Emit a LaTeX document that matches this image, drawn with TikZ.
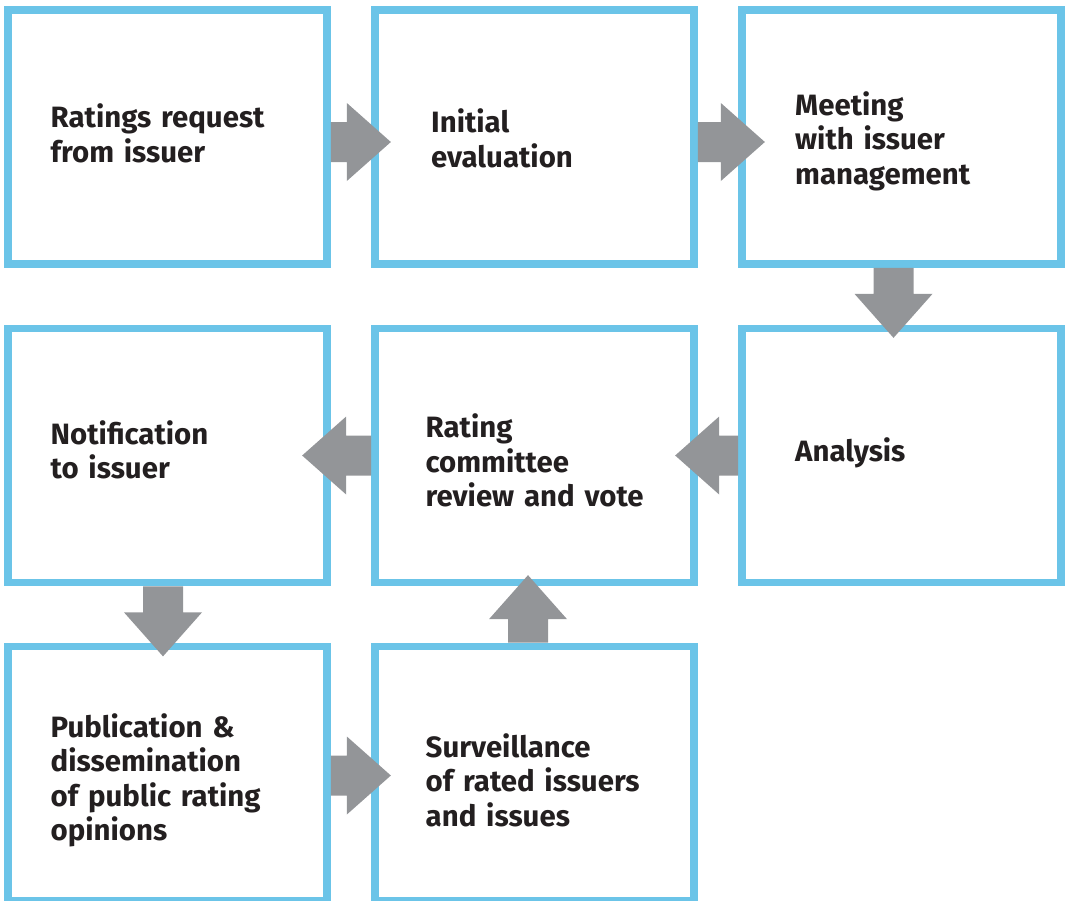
\documentclass[tikz,border=0pt]{standalone}
\usepackage{fontspec}
\setmainfont{Fira Sans}
\usetikzlibrary{positioning}
\definecolor{boxblue}{RGB}{107,196,232}
\definecolor{arrowgray}{RGB}{147,149,152}
\definecolor{textblack}{RGB}{35,31,32}

% block arrow: start point, direction, length
\newcommand{\flowarrow}[3]{%
  \fill[arrowgray, shift={#1}, rotate=#2]
    (0,-20) -- ({#3-44},-20) -- ({#3-44},-39) -- (#3,0)
    -- ({#3-44},39) -- ({#3-44},20) -- (0,20) -- cycle;}

\begin{document}
\begin{tikzpicture}[x=1pt, y=-1pt,
     font=\fontsize{29.4}{34.6}\selectfont\bfseries,
     stepbox/.style = {draw=boxblue, line width=7.7pt, inner sep=0pt,
     minimum width=319pt, minimum height=254pt},
     steptext/.style = {anchor=base west, inner sep=0pt,
     text width=260pt, align=left, text=textblack}]
        \useasboundingbox (0,0) rectangle (1065,900);
        % boxes
        \node [stepbox] at (167.5,137) (request) {};
        \node [stepbox, right=40.3pt of request] (evaluation) {};
        \node [stepbox, right=40.3pt of evaluation] (meeting) {};
        \node [stepbox, below=56.8pt of meeting] (analysis) {};
        \node [stepbox, left=40.3pt of analysis] (committee) {};
        \node [stepbox, left=40.3pt of committee] (notification) {};
        \node [stepbox, below=56.3pt of notification] (publication) {};
        \node [stepbox, right=40.3pt of publication] (surveillance) {};
        % texts
        \node [steptext] at (50.5,127.5) (request-t)
            {Ratings request\\from issuer};
        \node [steptext] at (431,132.5) (evaluation-t)
            {Initial\\evaluation};
        \node [steptext] at (795,115) (meeting-t)
            {Meeting\\with issuer\\management};
        \node [steptext] at (795,461) (analysis-t)
            {Analysis};
        \node [steptext] at (425.5,437.5) (committee-t)
            {Rating\\committee\\review and vote};
        \node [steptext] at (50.5,444) (notification-t)
            {Notification\\to issuer};
        \node [steptext] at (50.5,737) (publication-t)
            {Publication \&\\dissemination\\of public rating\\opinions};
        \node [steptext] at (425.5,757) (surveillance-t)
            {Surveillance\\of rated issuers\\and issues};
        % arrows
        \flowarrow{([yshift=-5pt]request.east)}{0}{60}
        \flowarrow{([yshift=-5pt]evaluation.east)}{0}{67}
        \flowarrow{([xshift=-8pt]meeting.south)}{-90}{70}
        \flowarrow{(analysis.west)}{180}{63}
        \flowarrow{(committee.west)}{180}{69}
        \flowarrow{([xshift=-4.5pt]notification.south)}{-90}{70}
        \flowarrow{([yshift=-2pt]publication.east)}{0}{60}
        \flowarrow{([xshift=-6.5pt]surveillance.north)}{90}{67.5}
\end{tikzpicture}
\end{document}
